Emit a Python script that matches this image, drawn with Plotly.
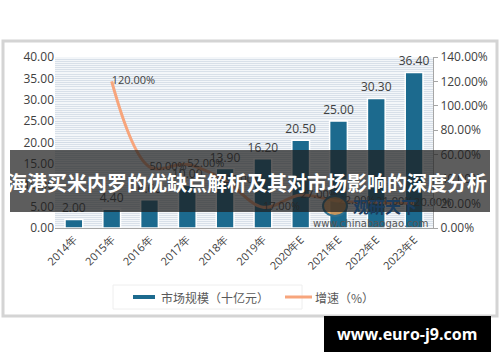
import plotly.graph_objects as go

years = ["2014年", "2015年", "2016年", "2017年", "2018年", "2019年",
         "2020年E", "2021年E", "2022年E", "2023年E"]
market_size = [2.00, 4.40, 6.60, 10.00, 13.90, 16.20, 20.50, 25.00, 30.30, 36.40]
growth_years = years[1:]
growth = [1.20, 0.50, 0.52, 0.39, 0.17, 0.27, 0.22, 0.21, 0.20]
legend_names = ["市场规模（十亿元）", "增速（%）"]

W, H = 500, 362
def px(x):
    return x / W
def py(y):
    return 1 - y / H

BLUE = "#1c6a8e"
ORANGE = "#f7a57c"

fig = go.Figure()
fig.add_trace(go.Bar(
    x=years, y=market_size, name=legend_names[0], showlegend=False,
    marker=dict(color=BLUE, line=dict(color="white", width=1.5)),
    width=0.47,
    text=[f"{v:.2f}" for v in market_size], textposition="outside",
    constraintext="none",
    textfont=dict(size=12, color="#404040", family="Open Sans"),
    cliponaxis=False,
))
fig.add_trace(go.Scatter(
    x=growth_years, y=growth, name=legend_names[1], yaxis="y2", showlegend=False,
    mode="lines+text", line=dict(color=ORANGE, width=3, shape="spline"),
    text=[f"{v*100:.2f}%" for v in growth], textposition="middle right",
    textfont=dict(size=11, color="#404040", family="Open Sans"),
    cliponaxis=False,
))

fig.update_layout(
    width=W, height=H, margin=dict(l=0, r=0, t=0, b=0),
    paper_bgcolor="white", plot_bgcolor="#f3f6f9",
    showlegend=False,
    xaxis=dict(domain=[px(55), px(433)], tickangle=-45, automargin=False,
               tickfont=dict(size=11, color="#404040", family="Open Sans"),
               showline=True, linecolor="#a6a6a6", linewidth=1, showgrid=False),
    yaxis=dict(domain=[py(228), py(57)], range=[0, 40], dtick=5, tickformat=".2f",
               automargin=False,
               tickfont=dict(size=12, color="#404040", family="Open Sans"),
               showgrid=True, gridcolor="#d3dce6", gridwidth=1, zeroline=False,
               minor=dict(dtick=0.5, showgrid=True, gridcolor="#d8e0e9", gridwidth=1),
               ticks=""),
    yaxis2=dict(overlaying="y", side="right", range=[0, 1.4], dtick=0.2, tickformat=".2%",
                automargin=False,
                tickfont=dict(size=12, color="#404040", family="Open Sans"),
                showgrid=False, zeroline=False, showline=True, linecolor="#a6a6a6",
                ticks="outside", ticklen=4, tickcolor="#a6a6a6"),
    bargap=0.5,
)

# outer frame
fig.add_shape(type="rect", xref="paper", yref="paper", x0=px(3), x1=px(497), y0=py(316), y1=py(41),
              line=dict(color="#d4d4d4", width=3), fillcolor="rgba(0,0,0,0)", layer="below")

# legend (drawn as shapes + text)
fig.add_shape(type="rect", xref="paper", yref="paper", x0=px(113), x1=px(302), y0=py(309), y1=py(285),
              line=dict(color="#eeeeee", width=1), fillcolor="white")
fig.add_shape(type="line", xref="paper", yref="paper", x0=px(133), x1=px(155), y0=py(297), y1=py(297),
              line=dict(color=BLUE, width=4))
fig.add_annotation(x=px(159), y=py(297), xref="paper", yref="paper", text=legend_names[0],
                   showarrow=False, xanchor="left", yanchor="middle",
                   font=dict(size=12, color="#595959", family="Noto Sans CJK SC"))
fig.add_shape(type="line", xref="paper", yref="paper", x0=px(285), x1=px(312), y0=py(297), y1=py(297),
              line=dict(color=ORANGE, width=3))
fig.add_annotation(x=px(313), y=py(297), xref="paper", yref="paper", text=legend_names[1],
                   showarrow=False, xanchor="left", yanchor="middle",
                   font=dict(size=12, color="#595959", family="Noto Sans CJK SC"))

# watermark
fig.add_shape(type="circle", xref="paper", yref="paper", x0=px(323), x1=px(347), y0=py(216), y1=py(196),
              line=dict(color="#2e6f8e", width=2), fillcolor="rgba(240,160,80,0.8)")
fig.add_annotation(x=px(385), y=py(206), xref="paper", yref="paper", text="<b>观研天下</b>",
                   showarrow=False, xanchor="center", yanchor="middle",
                   font=dict(size=16, color="#1b3d5e", family="Noto Sans CJK SC"))
fig.add_annotation(x=px(370), y=py(223), xref="paper", yref="paper", text="www.chinabaogao.com",
                   showarrow=False, xanchor="center", yanchor="middle",
                   font=dict(size=10, color="#555555", family="DejaVu Sans"))

# title banner
fig.add_shape(type="rect", xref="paper", yref="paper", x0=px(10), x1=px(490), y0=py(212), y1=py(150),
              line=dict(width=0), fillcolor="rgba(30,30,30,0.72)", layer="above")
fig.add_annotation(x=px(247), y=py(182), xref="paper", yref="paper",
                   text="<b>海港买米内罗的优缺点解析及其对市场影响的深度分析</b>",
                   showarrow=False, xanchor="center", yanchor="middle",
                   font=dict(size=20, color="white", family="Noto Sans CJK SC"))

# bottom url box
fig.add_shape(type="rect", xref="paper", yref="paper", x0=px(324), x1=px(491), y0=py(352), y1=py(316),
              line=dict(width=0), fillcolor="black", layer="above")
fig.add_annotation(x=px(407), y=py(334), xref="paper", yref="paper", text="<b>www.euro-j9.com</b>",
                   showarrow=False, xanchor="center", yanchor="middle",
                   font=dict(size=16, color="white", family="Open Sans"))

fig.write_html("out.html", config={"displayModeBar": False},
               post_script="document.body.style.margin='0px';")
